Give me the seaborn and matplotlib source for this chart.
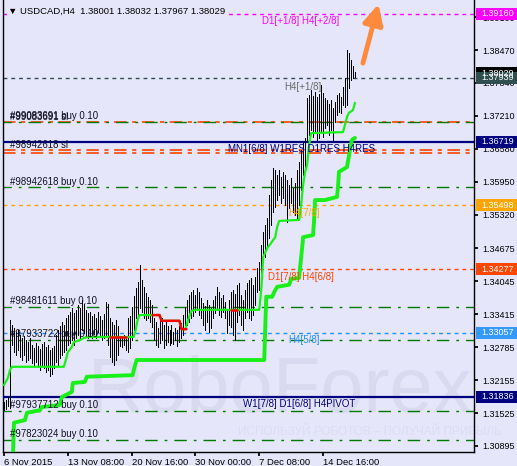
import matplotlib
matplotlib.use("Agg")
import matplotlib.pyplot as plt
import matplotlib.transforms as mtransforms
from matplotlib.patches import Rectangle
import pandas as pd
import seaborn as sns

# --- данные (H4 бары USDCAD, 6 Nov - 16 Dec 2015) ---
bar_high = [1.3174, 1.3178, 1.3181, 1.3331, 1.3321, 1.3315, 1.3308, 1.3311, 1.3302, 1.3296,
            1.3300, 1.3292, 1.3289, 1.3296, 1.3283, 1.3277, 1.3287, 1.3281, 1.3275, 1.3285,
            1.3289, 1.3279, 1.3283, 1.3273, 1.3277, 1.3281, 1.3302, 1.3311, 1.3319, 1.3327,
            1.3321, 1.3334, 1.3340, 1.3346, 1.3354, 1.3344, 1.3350, 1.3359, 1.3354, 1.3369,
            1.3361, 1.3350, 1.3344, 1.3346, 1.3338, 1.3342, 1.3334, 1.3346, 1.3338, 1.3331,
            1.3342, 1.3365, 1.3361, 1.3334, 1.3327, 1.3321, 1.3331, 1.3319, 1.3300, 1.3296,
            1.3302, 1.3298, 1.3334, 1.3338, 1.3356, 1.3377, 1.3392, 1.3403, 1.3436, 1.3407,
            1.3394, 1.3382, 1.3375, 1.3369, 1.3359, 1.3334, 1.3327, 1.3315, 1.3331, 1.3334,
            1.3321, 1.3331, 1.3319, 1.3311, 1.3321, 1.3308, 1.3315, 1.3311, 1.3319, 1.3325,
            1.3340, 1.3356, 1.3369, 1.3378, 1.3384, 1.3388, 1.3378, 1.3392, 1.3384, 1.3373,
            1.3363, 1.3357, 1.3369, 1.3359, 1.3354, 1.3369, 1.3376, 1.3394, 1.3384, 1.3373,
            1.3378, 1.3365, 1.3350, 1.3369, 1.3384, 1.3388, 1.3380, 1.3398, 1.3401, 1.3378,
            1.3369, 1.3388, 1.3401, 1.3407, 1.3411, 1.3398, 1.3413, 1.3430, 1.3441, 1.3474,
            1.3499, 1.3512, 1.3526, 1.3570, 1.3598, 1.3621, 1.3618, 1.3608, 1.3618, 1.3604,
            1.3614, 1.3608, 1.3598, 1.3589, 1.3602, 1.3583, 1.3593, 1.3618, 1.3633, 1.3656,
            1.3669, 1.3679, 1.3755, 1.3761, 1.3771, 1.3759, 1.3767, 1.3757, 1.3763, 1.3780,
            1.3765, 1.3755, 1.3751, 1.3744, 1.3751, 1.3736, 1.3748, 1.3761, 1.3765, 1.3757,
            1.3776, 1.3794, 1.3847, 1.3841, 1.3828, 1.3816, 1.3805]
bar_low = [1.3158, 1.3160, 1.3166, 1.3162, 1.3283, 1.3269, 1.3264, 1.3273, 1.3260, 1.3254,
           1.3264, 1.3250, 1.3254, 1.3258, 1.3248, 1.3245, 1.3250, 1.3241, 1.3235, 1.3243,
           1.3239, 1.3231, 1.3235, 1.3224, 1.3227, 1.3239, 1.3250, 1.3245, 1.3258, 1.3264,
           1.3269, 1.3273, 1.3283, 1.3287, 1.3292, 1.3283, 1.3296, 1.3302, 1.3296, 1.3311,
           1.3306, 1.3302, 1.3296, 1.3300, 1.3296, 1.3304, 1.3296, 1.3308, 1.3300, 1.3292,
           1.3296, 1.3300, 1.3283, 1.3260, 1.3250, 1.3245, 1.3254, 1.3264, 1.3281, 1.3279,
           1.3283, 1.3273, 1.3269, 1.3277, 1.3292, 1.3311, 1.3334, 1.3340, 1.3354, 1.3346,
           1.3334, 1.3331, 1.3334, 1.3327, 1.3317, 1.3292, 1.3283, 1.3279, 1.3287, 1.3292,
           1.3277, 1.3283, 1.3289, 1.3283, 1.3287, 1.3285, 1.3292, 1.3281, 1.3289, 1.3296,
           1.3302, 1.3315, 1.3321, 1.3327, 1.3334, 1.3338, 1.3346, 1.3350, 1.3340, 1.3334,
           1.3321, 1.3311, 1.3327, 1.3308, 1.3315, 1.3334, 1.3344, 1.3350, 1.3340, 1.3336,
           1.3346, 1.3334, 1.3306, 1.3321, 1.3317, 1.3302, 1.3292, 1.3327, 1.3340, 1.3321,
           1.3311, 1.3334, 1.3346, 1.3334, 1.3331, 1.3340, 1.3359, 1.3384, 1.3388, 1.3422,
           1.3441, 1.3451, 1.3468, 1.3487, 1.3512, 1.3537, 1.3547, 1.3560, 1.3570, 1.3554,
           1.3564, 1.3551, 1.3518, 1.3545, 1.3554, 1.3537, 1.3531, 1.3522, 1.3551, 1.3579,
           1.3608, 1.3618, 1.3675, 1.3684, 1.3694, 1.3681, 1.3688, 1.3675, 1.3679, 1.3690,
           1.3681, 1.3698, 1.3704, 1.3685, 1.3694, 1.3675, 1.3709, 1.3723, 1.3728, 1.3727,
           1.3742, 1.3738, 1.3742, 1.3774, 1.3790, 1.3794, 1.3795]

# тонкая (верхняя) линия трейлинга
thin_idx = [0, 2, 3, 4, 30, 31, 32, 34, 35, 38, 40, 42, 65, 66, 67, 68, 78, 79, 88, 89, 91, 92,
            93, 94, 96, 128, 129, 130, 132, 134, 136, 137, 138, 148, 149, 150, 151, 152, 153,
            154, 170, 171, 172, 173, 175, 176]
thin_val = [1.3206, 1.3220, 1.3235, 1.3241, 1.3241, 1.3254, 1.3269, 1.3279, 1.3288, 1.3292,
            1.3296, 1.3298, 1.3298, 1.3311, 1.3331, 1.3340, 1.3340, 1.3329, 1.3329, 1.3313,
            1.3313, 1.3327, 1.3338, 1.3348, 1.3350, 1.3350, 1.3388, 1.3451, 1.3468, 1.3478,
            1.3489, 1.3509, 1.3520, 1.3522, 1.3551, 1.3589, 1.3614, 1.3627, 1.3665, 1.3688,
            1.3690, 1.3704, 1.3719, 1.3727, 1.3732, 1.3746]
red_idx = [[53, 61], [74.5, 78, 79, 88, 89, 91.5], [114, 117]]
red_val = [[1.3298, 1.3298], [1.3340, 1.3340, 1.3329, 1.3329, 1.3313, 1.3313], [1.3350, 1.3350]]

# толстая (нижняя) линия
thick_idx = [4.5, 5, 10.5, 11.5, 18, 19, 28, 29, 34, 34.5, 40.5, 41.5, 64.5, 65.5, 66.5, 130.5,
             131.5, 134.5, 135.5, 137, 143, 144, 148, 148.5, 149.5, 150, 155, 155.5, 156, 161,
             167, 167.5, 168, 172, 173.5, 174.5, 176]
thick_val = [1.3072, 1.3134, 1.3139, 1.3153, 1.3158, 1.3164, 1.3168, 1.3183, 1.3193, 1.3210,
             1.3212, 1.3222, 1.3225, 1.3241, 1.3254, 1.3254, 1.3375, 1.3375, 1.3384, 1.3394,
             1.3398, 1.3409, 1.3411, 1.3432, 1.3468, 1.3489, 1.3493, 1.3522, 1.3560, 1.3560,
             1.3566, 1.3585, 1.3614, 1.3623, 1.3656, 1.3675, 1.3679]

# уровни Мюррея
level_price = [1.39160, 1.37939, 1.36719, 1.35498, 1.34277, 1.33057, 1.31836]
level_color = ['#FF00FF', '#2F4F4F', '#000080', '#FFA500', '#FF4500', '#1E90FF', '#000080']
level_text = ['D1[+1/8] H4[+2/8]', 'H4[+1/8]', 'MN1[6/8] W1RES D1RES H4RES', 'H4[7/8]',
              'D1[7/8] H4[6/8]', 'H4[5/8]', 'W1[7/8] D1[6/8] H4PIVOT']
level_text_color = ['#FF00FF', '#696969', '#000080', '#FFA500', '#FF4500', '#1E90FF', '#000080']
level_text_px = [262, 284, 228, 288, 268, 288, 243]

# ордера
buy_price = [1.37100, 1.35844, 1.33554, 1.32923, 1.31565, 1.31010]
buy_text = ['#99083691 buy 0.10', '#98942618 buy 0.10', '#98481611 buy 0.10',
            '#97933722 buy 0.10', '#97937712 buy 0.10', '#97823024 buy 0.10']
sl_price = [1.37093, 1.36548, 1.36505]
sl_text = ['#99083691 sl', '#98942618 sl', '']

y_ticks = [1.39100, 1.38470, 1.37840, 1.37210, 1.36580, 1.35950, 1.35320, 1.34675, 1.34045,
           1.33415, 1.32785, 1.32155, 1.31525, 1.30895]
x_tick_idx = [0, 32, 64, 96, 128, 160]
x_tick_lbl = ['6 Nov 2015', '13 Nov 08:00', '20 Nov 16:00', '30 Nov 00:00', '7 Dec 08:00',
              '14 Dec 16:00']

BG = '#E6E6FA'
Y_TOP, Y_BOT = 1.39427, 1.30780

sns.set_theme(style="white")
plt.rcParams['font.family'] = ['Liberation Sans', 'DejaVu Sans']
plt.rcParams['lines.scale_dashes'] = False

fig = plt.figure(figsize=(5.17, 4.66), dpi=100, facecolor=BG)
ax = fig.add_axes([3 / 517, 14 / 466, 471 / 517, 452 / 466])
ax.set_facecolor(BG)
ax.set_xlim(-0.5, 235.7)
ax.set_ylim(Y_BOT, Y_TOP)
trans = mtransforms.blended_transform_factory(ax.transAxes, ax.transData)
px = (Y_TOP - Y_BOT) / 452

# водяной знак
ax.text(0.996, 0.088, 'RoboForex', transform=ax.transAxes, ha='right', va='baseline',
        fontsize=56, color='#D9D9F0', zorder=0)
ax.text(0.50, 0.045, 'ИСПОЛЬЗУЙ РОБОТОВ – ПОЛУЧАЙ ПРИБЫЛЬ', transform=ax.transAxes,
        ha='left', va='center', fontsize=8.5, color='#DCDCF2', zorder=0)

# линии уровней
dash_short = (0, (2.8, 2.8))
for p, c in zip(level_price, level_color):
    if c == '#000080':
        ax.axhline(p, color=c, lw=1.6, zorder=3)
    else:
        ax.axhline(p, color=c, lw=1, ls=dash_short, zorder=2)
for p, t, c, xp in zip(level_price, level_text, level_text_color, level_text_px):
    off = -4 if t == 'H4[+1/8]' else -2.5
    ax.annotate(t, xy=((xp - 3) / 471, p), xycoords=trans, xytext=(0, off),
                textcoords='offset pixels', ha='left', va='top', fontsize=7, color=c, zorder=7)

# линии ордеров
for p in sl_price:
    ax.axhline(p, color='#FF4500', lw=1.2, ls=(0, (9, 4, 3, 4)), zorder=2)
for p in buy_price:
    ax.axhline(p, color='#007A00', lw=1, ls=(3, (9, 5, 2, 5)), zorder=2)
for p, t in list(zip(buy_price, buy_text)) + list(zip(sl_price, sl_text)):
    ax.annotate(t, xy=((10 - 3) / 471, p), xycoords=trans, xytext=(0, 2.5),
                textcoords='offset pixels', ha='left', va='baseline', fontsize=6.9,
                color='#101020', zorder=7)

# бары
idx = list(range(len(bar_high)))
ax.vlines(idx, bar_low, bar_high, color='black', lw=0.6, antialiased=False, zorder=4)

# трейлинг-линии
df_thin = pd.DataFrame({'bar': thin_idx, 'price': thin_val})
df_thick = pd.DataFrame({'bar': thick_idx, 'price': thick_val})
sns.lineplot(data=df_thin, x='bar', y='price', estimator=None, sort=False, color='#19F019',
             lw=1.6, ax=ax, zorder=5)
sns.lineplot(data=df_thick, x='bar', y='price', estimator=None, sort=False, color='#19F019',
             lw=2.8, ax=ax, zorder=5)
for xs, ys in zip(red_idx, red_val):
    ax.plot(xs, ys, color='#FF0000', lw=1.8, zorder=6)

# стрелка
ax.annotate('', xy=(187.8, 1.3935), xytext=(180, 1.3822),
            arrowprops=dict(arrowstyle='-|>', color='#FF8A3D', lw=3.5, mutation_scale=30,
                            shrinkA=0, shrinkB=0), zorder=8)

# заголовок
ax.text((8 - 3) / 471, 1 - 11 / 452, '▼ USDCAD,H4  1.38001 1.38032 1.37967 1.38029',
        transform=ax.transAxes, ha='left', va='center', fontsize=6.8, color='black',
        bbox=dict(fc=BG, ec='none', pad=1), zorder=9)

# оси
ax.yaxis.tick_right()
ax.set_yticks(y_ticks)
ax.set_yticklabels([f'{v:.5f}' for v in y_ticks])
ax.set_xticks(x_tick_idx)
ax.set_xticklabels(x_tick_lbl, ha='left')
ax.tick_params(axis='y', length=3, pad=3, labelsize=6.5, colors='black', direction='out',
               right=True, left=False)
ax.tick_params(axis='x', length=3, pad=1, labelsize=6.8, colors='black', direction='out',
               bottom=True)
ax.set_xlabel('')
ax.set_ylabel('')
for s in ['left', 'right', 'bottom']:
    ax.spines[s].set_color('black')
    ax.spines[s].set_linewidth(1)
ax.spines['top'].set_visible(False)

# ценовые метки справа
box_h = 12 * px
for p, fc in [(1.39160, '#FF00FF'), (1.38029, '#000000'), (1.37939, '#2F4F4F'),
              (1.36719, '#000080'), (1.35498, '#FFA500'), (1.34277, '#FF4500'),
              (1.33057, '#3399FF'), (1.31836, '#000080')]:
    ax.add_patch(Rectangle((1.0042, p - box_h / 2), 0.095, box_h, transform=trans,
                           facecolor=fc, edgecolor='none', clip_on=False, zorder=10))
    ax.text(1.0149, p, f'{p:.5f}', transform=trans, ha='left', va='center', color='white',
            fontsize=6.5, zorder=11, clip_on=False)

fig.savefig('out.png', dpi=100, facecolor=BG)
